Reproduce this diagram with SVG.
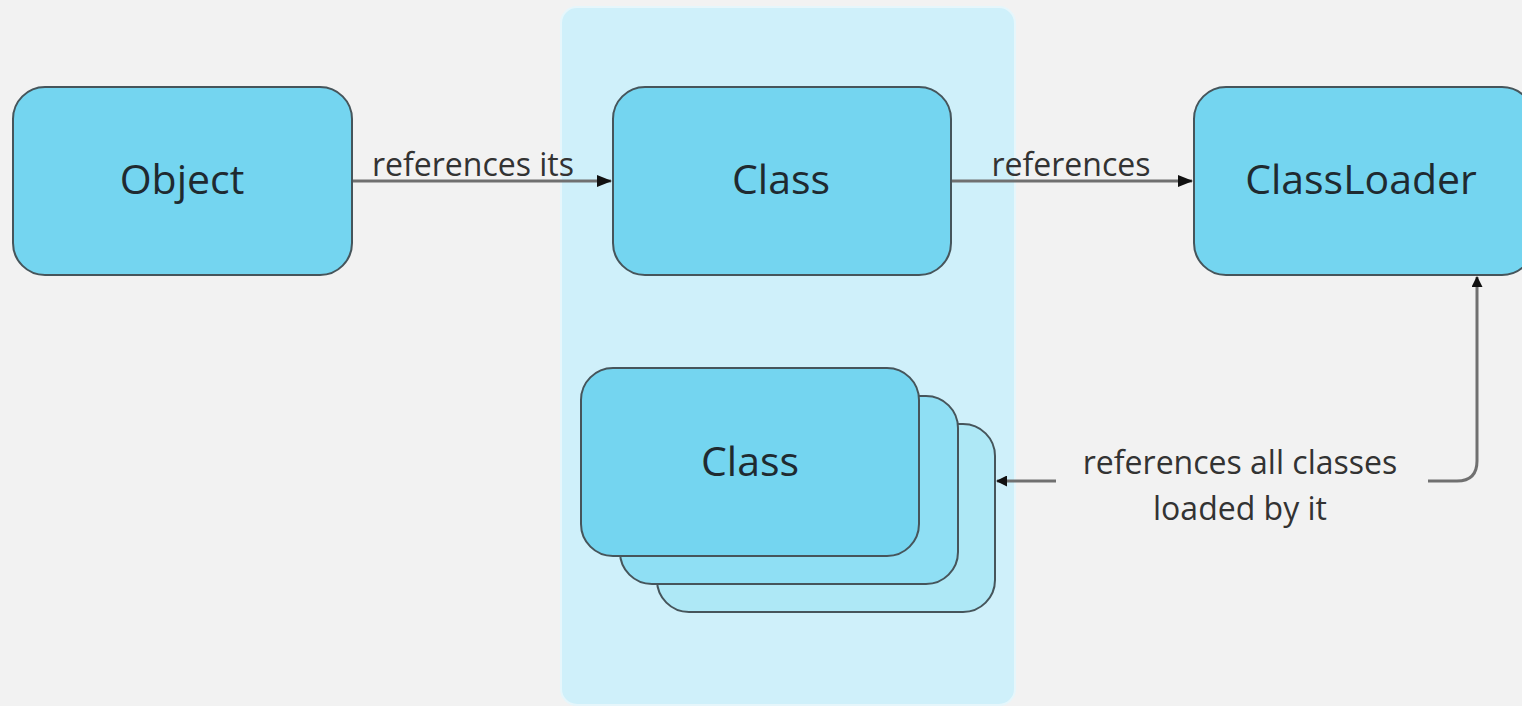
<svg xmlns="http://www.w3.org/2000/svg" width="1522" height="706" viewBox="0 0 1522 706">
<style>
.node{stroke:#46555b;stroke-width:2}
.n1{fill:#74d5f0}
.n2{fill:#8fdff4}
.n3{fill:#aee8f6}
.t{font-family:"Open Sans","Noto Sans",sans-serif;font-size:41px;fill:#1f2a30;text-anchor:middle}
.lbl{font-family:"Open Sans","Noto Sans",sans-serif;font-size:32px;fill:#333;text-anchor:middle}
.conn{fill:none;stroke:#707070;stroke-width:3}
</style>
<defs>
<marker id="ah" markerWidth="11" markerHeight="11" refX="10" refY="5.5" orient="auto" markerUnits="userSpaceOnUse" viewBox="0 0 11 11">
<path d="M0,0 L11,5.5 L0,11 z" fill="#111"/>
</marker>
<marker id="ahs" markerWidth="15" markerHeight="14" refX="14" refY="7" orient="auto" markerUnits="userSpaceOnUse" viewBox="0 0 15 14">
<path d="M0,1 L15,7 L0,13 z" fill="#111"/>
</marker>
</defs>
<rect width="1522" height="706" fill="#f2f2f2"/>
<g id="panel">
<rect x="561" y="7" width="454" height="698" rx="16" fill="#cff0fa" stroke="#e6f6fb" stroke-width="2"/>
</g>
<g id="connectors">
<line class="conn" x1="352" y1="181" x2="611" y2="181" marker-end="url(#ahs)"/>
<line class="conn" x1="951" y1="181" x2="1192" y2="181" marker-end="url(#ahs)"/>
<path class="conn" d="M1428,481 L1457,481 Q1477,481 1477,461 L1477,277" marker-end="url(#ah)"/>
<line class="conn" x1="1056" y1="481" x2="997" y2="481" marker-end="url(#ah)"/>
<text class="lbl" x="473" y="176">references its</text>
<text class="lbl" x="1071" y="176">references</text>
<text class="lbl" x="1240" y="474">references all classes</text>
<text class="lbl" x="1240" y="520">loaded by it</text>
</g>
<g id="object">
<rect class="node n1" x="13" y="87" width="339" height="188" rx="32"/>
<text class="t" x="182" y="194">Object</text>
</g>
<g id="class">
<rect class="node n1" x="613" y="87" width="338" height="188" rx="32"/>
<text class="t" x="781" y="194">Class</text>
</g>
<g id="classloader">
<rect class="node n1" x="1194" y="87" width="340" height="188" rx="32"/>
<text class="t" x="1361" y="194">ClassLoader</text>
</g>
<g id="classes">
<rect class="node n3" x="657" y="424" width="338" height="188" rx="32"/>
<rect class="node n2" x="620" y="396" width="338" height="188" rx="32"/>
<rect class="node n1" x="581" y="368" width="338" height="188" rx="32"/>
<text class="t" x="750" y="476">Class</text>
</g>
</svg>
